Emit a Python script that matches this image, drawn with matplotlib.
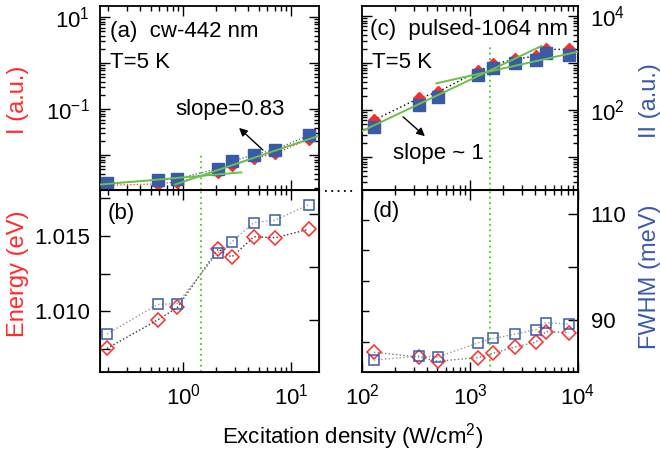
import matplotlib
matplotlib.use('Agg')
import matplotlib.pyplot as plt
from matplotlib.ticker import (LogLocator, NullFormatter, FixedLocator,
                               FormatStrFormatter, FixedFormatter)
from matplotlib.lines import Line2D

plt.rcParams['font.family'] = ['Liberation Sans', 'DejaVu Sans']
plt.rcParams['mathtext.fontset'] = 'custom'
plt.rcParams['mathtext.rm'] = 'Liberation Sans'
plt.rcParams['mathtext.it'] = 'Liberation Sans:italic'

# ---------------- data ----------------
cw_x = [0.196, 0.578, 0.877, 2.09, 2.80, 4.5, 7.08, 14.4]
cw_I = [0.00224, 0.0024, 0.00265, 0.00427, 0.00607, 0.0086, 0.011, 0.0223]
cw_II = [0.0025, 0.00286, 0.00311, 0.00514, 0.00741, 0.01036, 0.0133, 0.0272]
cw_E_I = [1.00755, 1.00944, 1.01026, 1.01412, 1.01360, 1.01494, 1.01488, 1.01543]
cw_E_II = [1.00851, 1.01046, 1.01052, 1.01389, 1.01460, 1.01588, 1.01604, 1.01706]

pl_x = [129, 335, 503, 1197, 1623, 2612, 4073, 5018, 8260]
pl_I = [61.3, 177, 242, 676, 937, 1199, 1410, 1950, 1950]
pl_II = [44.2, 128, 192, 556, 771, 986, 1159, 1607, 1479]
pl_W_I = [83.9, 83.0, 82.2, 82.9, 83.7, 84.9, 85.8, 87.8, 87.6]
pl_W_II = [82.4, 83.2, 83.0, 85.7, 86.5, 87.3, 88.2, 89.5, 89.2]

fit_a1_x = [0.17, 3.44]
fit_a1_y = [0.00232, 0.00427]
fit_a2_x = [0.835, 17.4]
fit_a2_y = [0.00232, 0.0259]
fit_c1_x = [100, 4590]
fit_c1_y = [35.7, 2300]
fit_c2_x = [488, 10000]
fit_c2_y = [370, 1740]

threshold_cw = 1.45
threshold_pl = 1530

RED = '#ff2a2a'
BLUE = '#3a5aa8'
GREEN = '#6cc04a'
VGREEN = '#44cc22'
FS = 16

fig = plt.figure(figsize=(6.6, 4.55), dpi=100)
W, H = 660.0, 455.0


def P(x, y):
    return (x / W, 1 - y / H)


L = 99.5 / W
W1 = 219.5 / W
R = 362 / W
W2 = 216 / W
ytop = 1 - 6 / H
ymid = 1 - 189.5 / H
ybot = 1 - 372 / H

ax_a = fig.add_axes([L, ymid, W1, ytop - ymid])
ax_b = fig.add_axes([L, ybot, W1, ymid - ybot])
ax_c = fig.add_axes([R, ymid, W2, ytop - ymid])
ax_d = fig.add_axes([R, ybot, W2, ymid - ybot])
ax_br = ax_b.twinx()
ax_dl = ax_d.twinx()


def style(ax):
    for s in ax.spines.values():
        s.set_linewidth(1.3)
    ax.tick_params(which='both', direction='in', top=True, bottom=True,
                   left=True, right=True, labelsize=FS, width=1)
    ax.tick_params(which='major', length=7, pad=7)
    ax.tick_params(which='minor', length=3.5)


# ---------- (a) ----------
ax_a.set_xscale('log')
ax_a.set_yscale('log')
ax_a.plot(cw_x, cw_I, ls=':', color=RED, lw=0.9, marker='D', ms=6.5,
          mfc=RED, mec=RED, zorder=3)
ax_a.plot(cw_x, cw_II, ls=':', color=BLUE, lw=0.9, marker='s', ms=8.5,
          mfc=BLUE, mec=BLUE, zorder=4)
ax_a.plot(fit_a1_x, fit_a1_y, color=GREEN, lw=1.4, zorder=5)
ax_a.plot(fit_a2_x, fit_a2_y, color=GREEN, lw=1.4, zorder=5)
ax_a.axvline(threshold_cw, ymax=0.205, color=VGREEN, ls=(0, (1, 2)), lw=1.3, zorder=2)
ax_a.set_xlim(0.167, 18)
ax_a.set_ylim(0.00181, 17.6)
ax_a.yaxis.set_major_locator(FixedLocator([1e-2, 1e-1, 1, 10]))
ax_a.yaxis.set_major_formatter(FixedFormatter(['', r'$10^{-1}$', '', r'$10^{1}$']))
ax_a.yaxis.set_minor_locator(LogLocator(base=10, subs=range(2, 10), numticks=20))
ax_a.yaxis.set_minor_formatter(NullFormatter())
ax_a.xaxis.set_major_locator(FixedLocator([1, 10]))
ax_a.xaxis.set_minor_locator(LogLocator(base=10, subs=range(2, 10), numticks=20))
style(ax_a)
ax_a.tick_params(labelbottom=False, labelright=False, which='both')

# ---------- (b) ----------
ax_b.set_xscale('log')
ax_b.plot(cw_x, cw_E_I, ls=':', color='#333333', lw=1.0, marker='D', ms=7,
          mfc='none', mec=RED, mew=1.1)
ax_b.plot(cw_x, cw_E_II, ls=':', color='#999999', lw=1.0, marker='s', ms=7.5,
          mfc='none', mec=BLUE, mew=1.1)
ax_b.axvline(threshold_cw, color=VGREEN, ls=(0, (1, 2)), lw=1.3, zorder=2)
ax_b.set_xlim(0.167, 18)
ax_b.set_ylim(1.00599, 1.01807)
ax_b.yaxis.tick_left()
ax_b.yaxis.set_major_locator(FixedLocator([1.010, 1.015]))
ax_b.yaxis.set_major_formatter(FormatStrFormatter('%.3f'))
ax_b.yaxis.set_minor_locator(FixedLocator([1.0075, 1.0125, 1.0175]))
ax_b.xaxis.set_major_locator(FixedLocator([1, 10]))
ax_b.xaxis.set_major_formatter(FixedFormatter([r'$10^{0}$', r'$10^{1}$']))
ax_b.xaxis.set_minor_locator(LogLocator(base=10, subs=range(2, 10), numticks=20))
ax_b.xaxis.set_minor_formatter(NullFormatter())
style(ax_b)
ax_b.tick_params(right=False, labelright=False, which='both')
ax_b.tick_params(axis='y', which='minor', length=7)
ax_b.tick_params(axis='x', pad=8)
ax_br.set_ylim(80.16, 114.69)
ax_br.yaxis.tick_right()
ax_br.yaxis.set_major_locator(FixedLocator([90, 100, 110]))
ax_br.tick_params(direction='in', length=7, labelright=False, labelleft=False,
                  left=False, width=1)

# ---------- (c) ----------
ax_c.set_xscale('log')
ax_c.set_yscale('log')
ax_c.plot(pl_x, pl_I, ls=(0, (1, 2)), color='black', lw=1.0, marker='D', ms=6.5,
          mfc=RED, mec=RED, zorder=3)
ax_c.plot(pl_x, pl_II, ls='none', marker='s', ms=8.5,
          mfc=BLUE, mec=BLUE, zorder=4)
ax_c.plot(fit_c1_x, fit_c1_y, color=GREEN, lw=1.4, zorder=5)
ax_c.plot(fit_c2_x, fit_c2_y, color=GREEN, lw=1.4, zorder=5)
ax_c.axvline(threshold_pl, ymax=0.777, color=VGREEN, ls=(0, (1, 2)), lw=1.3, zorder=2)
ax_c.set_xlim(100, 10000)
ax_c.set_ylim(2.04, 16330)
ax_c.yaxis.tick_right()
ax_c.yaxis.set_major_locator(FixedLocator([10, 100, 1000, 10000]))
ax_c.yaxis.set_major_formatter(FixedFormatter(['', r'$10^{2}$', '', r'$10^{4}$']))
ax_c.yaxis.set_minor_locator(LogLocator(base=10, subs=range(2, 10), numticks=20))
ax_c.yaxis.set_minor_formatter(NullFormatter())
ax_c.xaxis.set_major_locator(FixedLocator([1000]))
ax_c.xaxis.set_minor_locator(LogLocator(base=10, subs=range(2, 10), numticks=20))
style(ax_c)
ax_c.tick_params(labelbottom=False, labelleft=False, labelright=True, which='both')
ax_c.tick_params(axis='y', pad=9)

# ---------- (d) ----------
ax_d.set_xscale('log')
ax_d.plot(pl_x, pl_W_I, ls=':', color='#777777', lw=1.0, marker='D', ms=7,
          mfc='none', mec=RED, mew=1.1)
ax_d.plot(pl_x, pl_W_II, ls=':', color='#999999', lw=1.0, marker='s', ms=7.5,
          mfc='none', mec=BLUE, mew=1.1)
ax_d.axvline(threshold_pl, color=VGREEN, ls=(0, (1, 2)), lw=1.3, zorder=2)
ax_d.set_xlim(100, 10000)
ax_d.set_ylim(80.16, 114.69)
ax_d.yaxis.tick_right()
ax_d.yaxis.set_major_locator(FixedLocator([90, 100, 110]))
ax_d.yaxis.set_major_formatter(FixedFormatter(['90', '', '110']))
ax_d.xaxis.set_major_locator(FixedLocator([100, 1000, 10000]))
ax_d.xaxis.set_major_formatter(FixedFormatter([r'$10^{2}$', r'$10^{3}$', r'$10^{4}$']))
ax_d.xaxis.set_minor_locator(LogLocator(base=10, subs=range(2, 10), numticks=20))
ax_d.xaxis.set_minor_formatter(NullFormatter())
style(ax_d)
ax_d.tick_params(left=False, labelleft=False, labelright=True, which='both')
ax_d.tick_params(axis='y', pad=9)
ax_d.tick_params(axis='x', pad=8)
ax_dl.yaxis.tick_left()
ax_dl.set_ylim(0, 6)
ax_dl.yaxis.set_major_locator(FixedLocator([1, 2, 3, 4, 5]))
ax_dl.tick_params(direction='in', length=5, labelleft=False, labelright=False,
                  right=False, width=1)

# ---------- texts ----------
fig.text(*P(110, 31.7), '(a)  cw-442 nm', ha='left', va='center', fontsize=FS)
fig.text(*P(110, 63), 'T=5 K', ha='left', va='center', fontsize=FS)
fig.text(*P(175, 110), 'slope=0.83', ha='left', va='center', fontsize=FS)
fig.text(*P(108, 213), '(b)', ha='left', va='center', fontsize=FS)
fig.text(*P(370, 30), '(c)  pulsed-1064 nm', ha='left', va='center', fontsize=FS)
fig.text(*P(372, 63), 'T=5 K', ha='left', va='center', fontsize=FS)
fig.text(*P(393, 154), 'slope ~ 1', ha='left', va='center', fontsize=FS)
fig.text(*P(373, 211), '(d)', ha='left', va='center', fontsize=FS)

fig.text(*P(18, 100), 'I (a.u.)', color=RED, rotation=90, ha='center', va='center', fontsize=FS + 1)
fig.text(*P(18, 274), 'Energy (eV)', color=RED, rotation=90, ha='center', va='center', fontsize=FS + 1)
fig.text(*P(650, 101), 'II (a.u.)', color=BLUE, rotation=90, ha='center', va='center', fontsize=FS + 1)
fig.text(*P(650, 277), 'FWHM (meV)', color=BLUE, rotation=90, ha='center', va='center', fontsize=FS + 1)
fig.text(*P(353, 437), 'Excitation density (W/cm$^{2}$)', ha='center', va='center', fontsize=FS)

fig.add_artist(Line2D([325 / W, 356 / W], [1 - 191 / H, 1 - 191 / H],
                      transform=fig.transFigure, color='black', lw=1.3, ls=(0, (1, 2.5))))

ax_a.annotate('', xy=P(237, 126), xytext=P(265, 152), xycoords='figure fraction',
              textcoords='figure fraction',
              arrowprops=dict(arrowstyle='-|>', color='black', lw=1, mutation_scale=12))
ax_c.annotate('', xy=P(427, 138), xytext=P(401, 115), xycoords='figure fraction',
              textcoords='figure fraction',
              arrowprops=dict(arrowstyle='-|>', color='black', lw=1, mutation_scale=12))

fig.savefig('out.png', dpi=100)
